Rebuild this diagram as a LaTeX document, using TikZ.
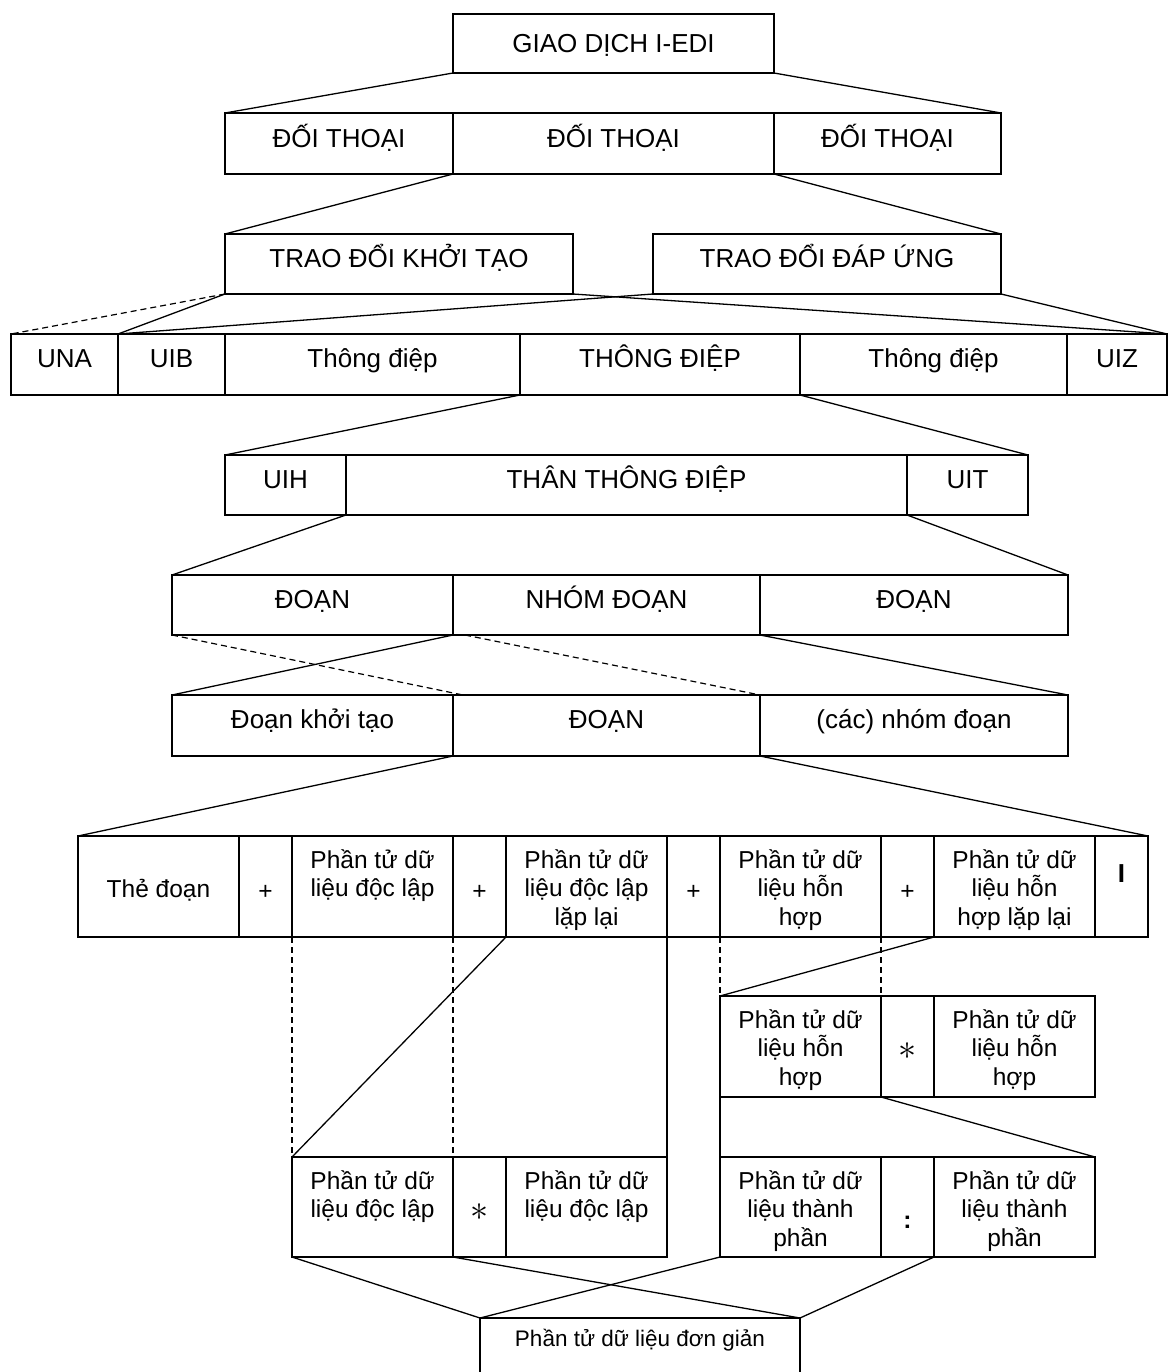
\documentclass[tikz,border=0pt]{standalone}
\usepackage{fontspec}
\setmainfont{Liberation Sans}
\usetikzlibrary{calc}

\tikzset{
  cellbox/.style={draw, rectangle, line width=1.3pt, inner sep=0pt, outer sep=0pt, anchor=north west},
  link/.style={line width=1.3pt},
  hidden/.style={line width=1.2pt, dash pattern=on 6pt off 4pt},
  headlbl/.style={font=\fontsize{26}{29}\selectfont, anchor=base, inner sep=0pt},
  bodylbl/.style={font=\fontsize{24.5}{28.5}\selectfont, align=center, anchor=north, inner sep=0pt},
  leaflbl/.style={font=\fontsize{22.5}{26}\selectfont, anchor=base, inner sep=0pt},
  signlbl/.style={font=\fontsize{24.5}{28.5}\selectfont, anchor=base, inner sep=0pt},
  starlbl/.style={font=\fontsize{24}{24}\selectfont, anchor=center, inner sep=0pt},
}

% a framed cell given by its top-left and bottom-right corners (y grows downwards)
\newcommand\cell[5]{%
  \pgfmathsetmacro\cellw{#4-#2}%
  \pgfmathsetmacro\cellh{#5-#3}%
  \node[cellbox, minimum width=\cellw pt, minimum height=\cellh pt] (#1) at (#2,#3) {};}
% one-line caption of a cell, optional baseline offset from the top edge
\newcommand\headtext[3][33]{\node[headlbl] (#2-t) at ($(#2.north)+(0,#1)$) {#3};}
% top-aligned caption of several lines
\newcommand\celltext[2]{\node[bodylbl] (#1-t) at ($(#1.north)+(0,7)$) {\rule{0pt}{25pt}#2};}
% repetition sign
\newcommand\repsign{\scalebox{1.45}{$\ast$}}

\begin{document}
\begin{tikzpicture}[x=1pt, y=-1pt]
\useasboundingbox (0,0) rectangle (1168,1372);
\clip (0,0) rectangle (1168,1372);

% ---- interchange level
\cell{giao}{453}{14}{774}{73}      \headtext[39]{giao}{GIAO DỊCH I-EDI}

% ---- dialogues
\cell{dA}{225}{113}{453}{174}      \headtext[35]{dA}{ĐỐI THOẠI}
\cell{dB}{453}{113}{774}{174}      \headtext[35]{dB}{ĐỐI THOẠI}
\cell{dC}{774}{113}{1001}{174}     \headtext[35]{dC}{ĐỐI THOẠI}

% ---- exchanges
\cell{tA}{225}{234}{573}{294}      \headtext{tA}{TRAO ĐỔI KHỞI TẠO}
\cell{tB}{653}{234}{1001}{294}     \headtext{tB}{TRAO ĐỔI ĐÁP ỨNG}

% ---- messages
\cell{una}{11}{334}{118}{395}      \headtext{una}{UNA}
\cell{uib}{118}{334}{225}{395}     \headtext{uib}{UIB}
\cell{mA}{225}{334}{520}{395}      \headtext{mA}{Thông điệp}
\cell{mB}{520}{334}{800}{395}      \headtext{mB}{THÔNG ĐIỆP}
\cell{mC}{800}{334}{1067}{395}     \headtext{mC}{Thông điệp}
\cell{uiz}{1067}{334}{1167}{395}   \headtext{uiz}{UIZ}

% ---- message body
\cell{uih}{225}{455}{346}{515}     \headtext{uih}{UIH}
\cell{than}{346}{455}{907}{515}    \headtext{than}{THÂN THÔNG ĐIỆP}
\cell{uit}{907}{455}{1028}{515}    \headtext{uit}{UIT}

% ---- segments and segment groups
\cell{sA}{172}{575}{453}{635}      \headtext{sA}{ĐOẠN}
\cell{sB}{453}{575}{760}{635}      \headtext{sB}{NHÓM ĐOẠN}
\cell{sC}{760}{575}{1068}{635}     \headtext{sC}{ĐOẠN}

\cell{gA}{172}{695}{453}{756}      \headtext{gA}{Đoạn khởi tạo}
\cell{gB}{453}{695}{760}{756}      \headtext{gB}{ĐOẠN}
\cell{gC}{760}{695}{1068}{756}     \headtext{gC}{(các) nhóm đoạn}

% ---- segment layout
\cell{c1}{78}{836}{239}{937}
\node[signlbl] (c1-t) at ($(c1.north)+(0,61)$) {Thẻ đoạn};
\cell{c2}{239}{836}{292}{937}
\node[signlbl] (c2-t) at ($(c2.north)+(0,63)$) {+};
\cell{c3}{292}{836}{453}{937}      \celltext{c3}{Phần tử dữ\\liệu độc lập}
\cell{c4}{453}{836}{506}{937}
\node[signlbl] (c4-t) at ($(c4.north)+(0,63)$) {+};
\cell{c5}{506}{836}{667}{937}      \celltext{c5}{Phần tử dữ\\liệu độc lập\\lặp lại}
\cell{c6}{667}{836}{720}{937}
\node[signlbl] (c6-t) at ($(c6.north)+(0,63)$) {+};
\cell{c7}{720}{836}{881}{937}      \celltext{c7}{Phần tử dữ\\liệu hỗn\\hợp}
\cell{c8}{881}{836}{934}{937}
\node[signlbl] (c8-t) at ($(c8.north)+(0,63)$) {+};
\cell{c9}{934}{836}{1095}{937}     \celltext{c9}{Phần tử dữ\\liệu hỗn\\hợp lặp lại}
\cell{c10}{1095}{836}{1148}{937}
\node[headlbl] (c10-t) at ($(c10.north)+(0,46)$) {\textbf{I}};

% ---- repeated composite element
\cell{hA}{720}{996}{881}{1097}     \celltext{hA}{Phần tử dữ\\liệu hỗn\\hợp}
\cell{hB}{881}{996}{934}{1097}
\node[starlbl] (hB-t) at ($(hB.north)+(0,55)$) {\repsign};
\cell{hC}{934}{996}{1095}{1097}    \celltext{hC}{Phần tử dữ\\liệu hỗn\\hợp}

% ---- repeated stand-alone element
\cell{lA}{292}{1157}{453}{1257}    \celltext{lA}{Phần tử dữ\\liệu độc lập}
\cell{lB}{453}{1157}{506}{1257}
\node[starlbl] (lB-t) at ($(lB.north)+(0,55)$) {\repsign};
\cell{lC}{506}{1157}{667}{1257}    \celltext{lC}{Phần tử dữ\\liệu độc lập}

% ---- component elements
\cell{rA}{720}{1157}{881}{1257}    \celltext{rA}{Phần tử dữ\\liệu thành\\phần}
\cell{rB}{881}{1157}{934}{1257}
\node[signlbl] (rB-t) at ($(rB.north)+(0,71)$) {\textbf{:}};
\cell{rC}{934}{1157}{1095}{1257}   \celltext{rC}{Phần tử dữ\\liệu thành\\phần}

% ---- simple element
\cell{bot}{480}{1318}{800}{1420}
\node[leaflbl] (bot-t) at ($(bot.north)+(0,28)$) {Phần tử dữ liệu đơn giản};

% ---- expansion lines
\draw[link] (giao.south west) -- (dA.north west);
\draw[link] (giao.south east) -- (dC.north east);

\draw[link] (dB.south west) -- (tA.north west);
\draw[link] (dB.south east) -- (tB.north east);

\draw[hidden] (tA.south west) -- (una.north west);
\draw[link] (tA.south west) -- (uib.north west);
\draw[link] (tB.south west) -- (uib.north west);
\draw[link] (tA.south east) -- (uiz.north east);
\draw[link] (tB.south east) -- (uiz.north east);

\draw[link] (mB.south west) -- (uih.north west);
\draw[link] (mB.south east) -- (uit.north east);

\draw[link] (than.south west) -- (sA.north west);
\draw[link] (than.south east) -- (sC.north east);

\draw[link] (sB.south west) -- (gA.north west);
\draw[link] (sB.south east) -- (gC.north east);
\draw[hidden] (sA.south west) -- ([xshift=10pt]gB.north west);
\draw[hidden] ([xshift=12pt]sB.south west) -- (gC.north west);

\draw[link] (gB.south west) -- (c1.north west);
\draw[link] (gB.south east) -- (c10.north east);

\draw[hidden] (c3.south west) -- (lA.north west);
\draw[hidden] (c3.south east) -- (lA.north east);
\draw[link] (c5.south west) -- (lA.north west);
\draw[link] (c5.south east) -- (lC.north east);

\draw[hidden] (c7.south west) -- (hA.north west);
\draw[hidden] (c7.south east) -- (hA.north east);
\draw[link] (c9.south west) -- (hA.north west);

\draw[link] (hA.south west) -- (rA.north west);
\draw[link] (hB.south west) -- (rC.north east);

\draw[link] (lA.south west) -- (bot.north west);
\draw[link] (lB.south west) -- (bot.north east);
\draw[link] (rA.south west) -- (bot.north west);
\draw[link] (rC.south west) -- (bot.north east);
\end{tikzpicture}
\end{document}
